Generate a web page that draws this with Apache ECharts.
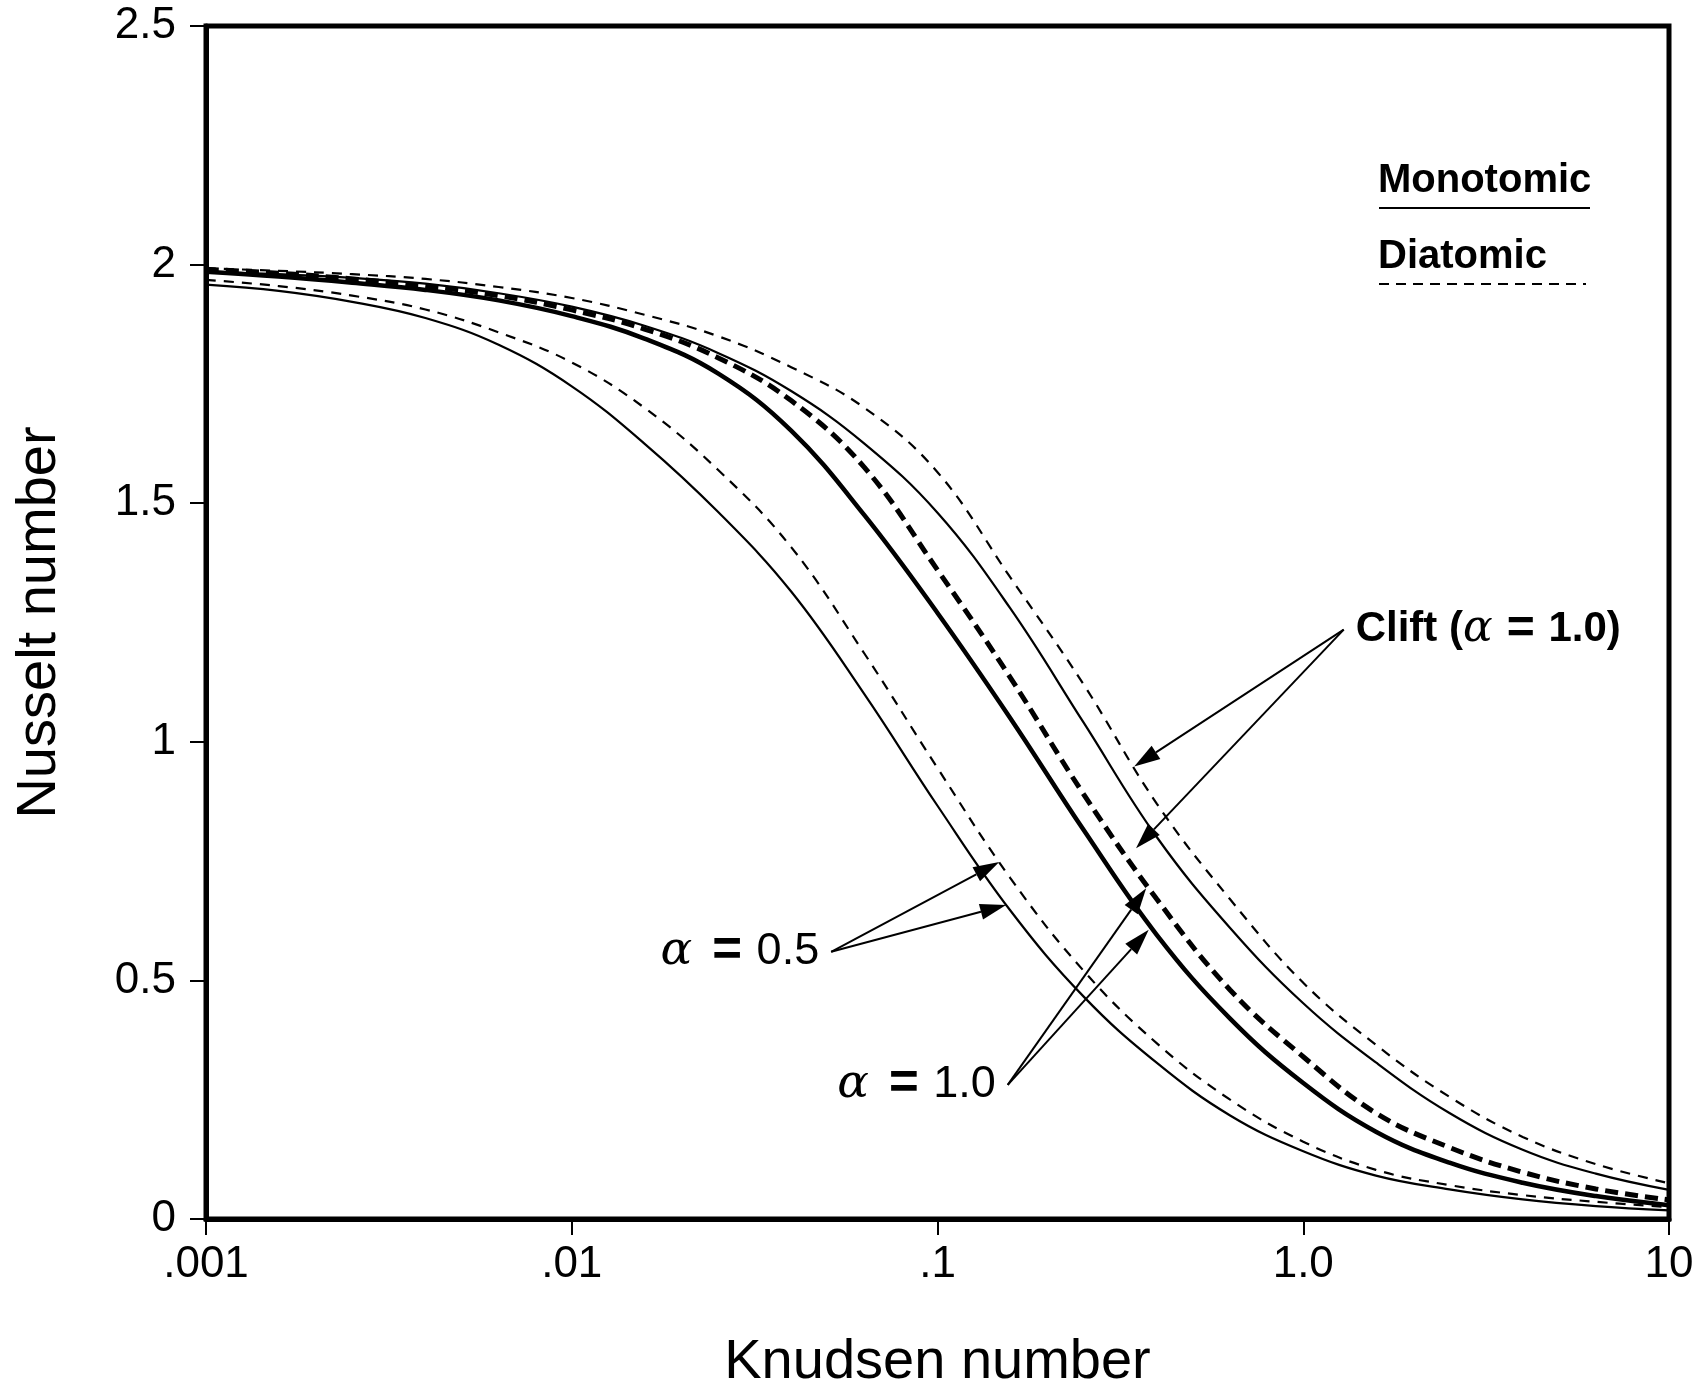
<!DOCTYPE html>
<html><head><meta charset="utf-8">
<script src="https://cdn.jsdelivr.net/npm/echarts@6/dist/echarts.min.js"></script>
<style>html,body{margin:0;padding:0;background:#fff;}#c{width:1699px;height:1389px;}</style>
</head><body><div id="c"></div>
<script>
// Knudsen numbers at which the curves were read (5 per decade)
const knudsen = [0.001,0.00158,0.00251,0.00398,0.00631,0.01,0.0158,0.0251,0.0398,0.0631,0.1,0.158,0.251,0.398,0.631,1,1.58,2.51,3.98,6.31,10];
// alpha = 0.5
const monoAlpha05 = [1.958,1.945,1.922,1.888,1.832,1.745,1.625,1.482,1.315,1.100,0.866,0.647,0.466,0.327,0.217,0.142,0.091,0.062,0.041,0.027,0.018];
const diaAlpha05  = [1.968,1.955,1.935,1.906,1.858,1.795,1.700,1.570,1.408,1.185,0.945,0.715,0.520,0.368,0.250,0.162,0.103,0.071,0.050,0.036,0.025];
// alpha = 1.0
const monoAlpha10 = [1.985,1.975,1.962,1.947,1.925,1.892,1.845,1.772,1.652,1.475,1.270,1.050,0.815,0.595,0.420,0.285,0.183,0.118,0.076,0.048,0.029];
const diaAlpha10  = [1.990,1.982,1.970,1.955,1.935,1.905,1.865,1.805,1.715,1.575,1.360,1.135,0.890,0.670,0.480,0.340,0.222,0.150,0.098,0.063,0.040];
// Clift (alpha = 1.0)
const monoClift   = [1.985,1.980,1.972,1.960,1.940,1.912,1.872,1.815,1.735,1.625,1.480,1.280,1.040,0.800,0.610,0.452,0.328,0.222,0.145,0.095,0.061];
const diaClift    = [1.992,1.987,1.980,1.970,1.953,1.930,1.895,1.850,1.785,1.700,1.565,1.345,1.120,0.870,0.670,0.495,0.365,0.256,0.172,0.115,0.075];

const xTickLabels = ['.001','.01','.1','1.0','10'];   // decades 1e-3 .. 1e1
const yTickLabels = ['0','0.5','1','1.5','2','2.5'];

// annotation arrows: label parts, apex (Kn, Nu), arrow tips (Kn, Nu)
const annotations = [
  {pre:'Clift (', num:'1.0)', side:'right', bold:true, apex:[1.29,1.235], tips:[[0.345,0.948],[0.349,0.777]]},
  {pre:'', num:'0.5', side:'left', bold:false, apex:[0.0512,0.560], tips:[[0.1475,0.748],[0.154,0.658]]},
  {pre:'', num:'1.0', side:'left', bold:false, apex:[0.1556,0.281], tips:[[0.372,0.693],[0.378,0.606]]}
];

const FONT = '"Liberation Sans", Arial, Helvetica, sans-serif';
const chart = echarts.init(document.getElementById('c'), null, {renderer:'canvas'});

function mk(name, arr, width, dash){
  return {
    name, type:'line', data: knudsen.map((k,i)=>[k, arr[i]]),
    showSymbol:false, symbol:'none', smooth:0.4, z:3,
    lineStyle:{color:'#000', width, type: dash || 'solid', cap:'butt'},
    emphasis:{disabled:true}, silent:true
  };
}

chart.setOption({
  animation:false,
  backgroundColor:'#fff',
  grid:{left:206, right:30, top:26, bottom:170, show:true, borderColor:'#000', borderWidth:5,
        containLabel:false, outerBoundsMode:'none'},
  xAxis:{
    type:'log', logBase:10, min:0.001, max:10,
    name:'Knudsen number', nameLocation:'middle', nameGap:116,
    nameTextStyle:{fontFamily:FONT, fontSize:56, color:'#000'},
    axisLine:{show:true, lineStyle:{color:'#000', width:5}},
    axisTick:{show:true, inside:false, length:16, lineStyle:{color:'#000', width:2}},
    minorTick:{show:false}, splitLine:{show:false},
    axisLabel:{fontFamily:FONT, fontSize:44, color:'#000', margin:24, hideOverlap:false,
      formatter:v=>{const e=Math.round(Math.log10(v)); return xTickLabels[e+3] ?? '';}}
  },
  yAxis:{
    type:'value', min:0, max:2.5, interval:0.5,
    name:'Nusselt number', nameLocation:'middle', nameGap:138, nameRotate:90,
    nameTextStyle:{fontFamily:FONT, fontSize:56, color:'#000'},
    axisLine:{show:true, lineStyle:{color:'#000', width:5}},
    axisTick:{show:true, inside:false, length:16, lineStyle:{color:'#000', width:2}},
    splitLine:{show:false},
    axisLabel:{fontFamily:FONT, fontSize:44, color:'#000', margin:30,
      formatter:v=>yTickLabels[Math.round(v/0.5)] ?? ''}
  },
  series:[
    mk('Monotomic α=0.5', monoAlpha05, 2.2),
    mk('Diatomic α=0.5', diaAlpha05, 2.2, [10,8]),
    mk('Monotomic α=1.0', monoAlpha10, 4.5),
    mk('Diatomic α=1.0', diaAlpha10, 5, [13,7]),
    mk('Monotomic Clift', monoClift, 2.2),
    mk('Diatomic Clift', diaClift, 2.2, [10,8])
  ]
});

// legend and annotations as graphic elements positioned through the chart's scales
const g = [];
g.push({type:'text', x:1378, y:181, style:{text:'Monotomic', font:'bold 40px '+FONT, fill:'#000', textVerticalAlign:'middle', textAlign:'left'}});
g.push({type:'line', shape:{x1:1379,y1:208,x2:1590,y2:208}, style:{stroke:'#000', lineWidth:2}});
g.push({type:'text', x:1378, y:257, style:{text:'Diatomic', font:'bold 40px '+FONT, fill:'#000', textVerticalAlign:'middle', textAlign:'left'}});
g.push({type:'line', shape:{x1:1379,y1:284,x2:1586,y2:284}, style:{stroke:'#000', lineWidth:2, lineDash:[10,7]}});

annotations.forEach(a=>{
  const p = chart.convertToPixel({gridIndex:0}, a.apex);
  a.tips.forEach(t=>{
    const q = chart.convertToPixel({gridIndex:0}, t);
    const dx=q[0]-p[0], dy=q[1]-p[1], L=Math.hypot(dx,dy), ux=dx/L, uy=dy/L;
    const hl=26, hw=8;
    const bx=q[0]-ux*hl, by=q[1]-uy*hl;
    g.push({type:'line', shape:{x1:p[0],y1:p[1],x2:bx,y2:by}, style:{stroke:'#000', lineWidth:2}});
    g.push({type:'polygon', shape:{points:[[q[0],q[1]],[bx-uy*hw,by+ux*hw],[bx+uy*hw,by-ux*hw]]}, style:{fill:'#000'}});
  });
  const w = a.bold ? 'bold ' : '';
  const fs = a.bold ? 42 : 45;
  const txt = (a.pre ? '{t|'+a.pre+'}' : '') + '{a|α}{e|=}{t| '+a.num+'}';
  g.push({type:'text', x: a.side==='right' ? p[0]+12 : p[0]-12, y:p[1],
    style:{text:txt, align:a.side==='right'?'left':'right', verticalAlign:'middle',
      rich:{
        t:{font:w+fs+'px '+FONT, fill:'#000'},
        a:{font:'italic '+(fs+2)+'px "DejaVu Serif", "Liberation Serif", serif', fill:'#000', padding:[0,2,0,0]},
        e:{font:'bold '+(fs+6)+'px '+FONT, fill:'#000', padding:[0,2,0,a.bold?12:18]}
      }}});
});
chart.setOption({graphic:g});
</script></body></html>
